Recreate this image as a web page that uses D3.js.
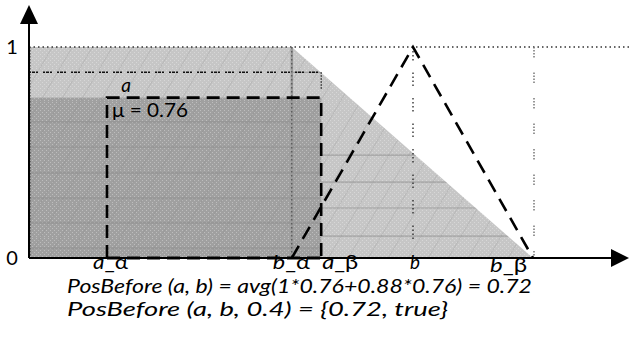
<!DOCTYPE html>
<html>
<head>
<meta charset="utf-8">
<script src="https://cdn.jsdelivr.net/npm/d3@7"></script>
<style>
  html, body { margin: 0; padding: 0; background: #fff; }
  svg { display: block; font-family: Lato, "Open Sans", "Liberation Sans", sans-serif; }
</style>
</head>
<body>
<svg id="chart" width="629" height="347"></svg>
<script>
// Interval end points on the horizontal axis
const pointNames  = ["a_α", "b_α", "a_β", "b", "b_β"];
const pointValues = [1.3, 4.38, 4.87, 6.4, 8.4];
// Membership levels
const mu = 0.76;           // height of the crisp interval a
const levelAtAbeta = 0.88; // value of the possibility curve at a_β
const yTickLabels = ["0", "1"];
const yTickValues = [0, 1];
// Faint horizontal rule levels inside the shaded areas
const darkRules  = [0.645, 0.526, 0.403, 0.284, 0.166, 0.047];
const lightRules = [0.88, 0.488, 0.36, 0.237, 0.104];
// Formula lines under the axis
const formulas = [
  "PosBefore (a, b) = avg(1*0.76+0.88*0.76) = 0.72",
  "PosBefore (a, b, 0.4) = {0.72, true}"
];

const P = {};
pointNames.forEach((n, i) => P[n] = pointValues[i]);

const svg = d3.select("#chart");
const x = d3.scaleLinear().domain([0, 10]).range([29, 629]);
const y = d3.scaleLinear().domain([0, 1]).range([258, 47]);

// ---- textures ----
const defs = svg.append("defs");
function texture(id, base) {
  const p = defs.append("pattern").attr("id", id)
    .attr("patternUnits", "userSpaceOnUse").attr("width", 20).attr("height", 34);
  p.append("rect").attr("width", 20).attr("height", 34).attr("fill", base);
  for (let i = 0; i < 20; i += 2) for (let j = 0; j < 34; j += 2) {
    if ((i + j) % 4 === 0) p.append("rect").attr("x", i).attr("y", j)
      .attr("width", 1).attr("height", 1).attr("fill", "#fff").attr("opacity", 0.3);
  }
  p.append("path").attr("d", "M0,34 L20,0 M-10,17 L0,0 M20,34 L30,17")
    .attr("stroke", "#777").attr("stroke-opacity", 0.2).attr("stroke-width", 1);
}
texture("lightTex", "#c6c6c6");
texture("darkTex", "#a0a0a0");

// ---- possibility region (light) ----
const lightPts = [[0, 1], [P["b_α"], 1], [P["b_β"], 0], [0, 0]];
const line = d3.line().x(d => x(d[0])).y(d => y(d[1]));
defs.append("clipPath").attr("id", "lightClip")
  .append("path").attr("d", line(lightPts) + "Z");
svg.append("path").attr("d", line(lightPts) + "Z").attr("fill", "url(#lightTex)");

// faint rules inside the light region, right of a_β
svg.append("g").attr("clip-path", "url(#lightClip)")
  .selectAll("line").data(lightRules).join("line")
  .attr("x1", x(P["b_α"])).attr("x2", x(P["b_β"]))
  .attr("y1", d => y(d)).attr("y2", d => y(d))
  .attr("stroke", "#8a8a8a").attr("stroke-width", 1.2).attr("stroke-opacity", 0.6);

// ---- dark region: 0 .. a_β at height mu ----
svg.append("rect")
  .attr("x", x(0)).attr("y", y(mu))
  .attr("width", x(P["a_β"]) - x(0)).attr("height", y(0) - y(mu))
  .attr("fill", "url(#darkTex)");
svg.append("g").selectAll("line").data(darkRules).join("line")
  .attr("x1", x(0)).attr("x2", x(P["a_β"]))
  .attr("y1", d => y(d)).attr("y2", d => y(d))
  .attr("stroke", "#8c8c8c").attr("stroke-width", 1.2).attr("stroke-opacity", 0.6);

// ---- guide lines ----
// level 1
svg.append("line").attr("x1", x(0)).attr("x2", 629).attr("y1", y(1)).attr("y2", y(1))
  .attr("stroke", "#333").attr("stroke-width", 1.3).attr("stroke-dasharray", "1.5,3");
// level at a_β
svg.append("line").attr("x1", x(0)).attr("x2", x(P["a_β"])).attr("y1", y(levelAtAbeta)).attr("y2", y(levelAtAbeta))
  .attr("stroke", "#111").attr("stroke-width", 1.4).attr("stroke-dasharray", "2,1,3,1,2,5");
svg.append("line").attr("x1", x(P["a_β"])).attr("x2", x(P["a_β"])).attr("y1", y(levelAtAbeta)).attr("y2", y(0.8))
  .attr("stroke", "#111").attr("stroke-width", 1.2).attr("stroke-dasharray", "1.5,1.5");
// b_α vertical
svg.append("line").attr("x1", x(P["b_α"])).attr("x2", x(P["b_α"])).attr("y1", y(1)).attr("y2", y(0))
  .attr("stroke", "#999").attr("stroke-width", 2.5);
svg.append("line").attr("x1", x(P["b_α"])).attr("x2", x(P["b_α"])).attr("y1", y(1)).attr("y2", y(0))
  .attr("stroke", "#444").attr("stroke-width", 1).attr("stroke-dasharray", "1.5,2.5");
// b vertical
svg.append("line").attr("x1", x(P["b"])).attr("x2", x(P["b"])).attr("y1", y(1)).attr("y2", y(0.05))
  .attr("stroke", "#222").attr("stroke-width", 1.3).attr("stroke-dasharray", "1.5,2.5,1.5,2.5,1.5,2.5,1.5,12");
// b_β vertical
svg.append("line").attr("x1", x(P["b_β"]) + 1).attr("x2", x(P["b_β"]) + 1).attr("y1", y(1)).attr("y2", y(0))
  .attr("stroke", "#777").attr("stroke-width", 1.5).attr("stroke-dasharray", "1.5,1.5,1.5,1.5,1.5,1.5,1.5,15");

// left edge of the shaded area
svg.append("line").attr("x1", x(0) + 1).attr("x2", x(0) + 1).attr("y1", y(1)).attr("y2", y(0))
  .attr("stroke", "#333").attr("stroke-width", 1).attr("stroke-dasharray", "1.5,1.5");

// ---- dashed crisp interval a ----
const dash = "13,7";
const rectPts = [[P["a_α"], 0], [P["a_α"], mu], [P["a_β"], mu], [P["a_β"], 0]];
svg.append("path").attr("d", line(rectPts)).attr("fill", "none")
  .attr("stroke", "#000").attr("stroke-width", 2.6).attr("stroke-dasharray", dash);

// ---- triangle b ----
const triPts = [[P["b_α"], 0], [P["b"], 1], [P["b_β"], 0]];
svg.append("path").attr("d", line(triPts)).attr("fill", "none")
  .attr("stroke", "#000").attr("stroke-width", 2.6).attr("stroke-dasharray", "14,8");

// ---- axes ----
svg.append("line").attr("x1", x(0)).attr("x2", 612).attr("y1", y(0)).attr("y2", y(0))
  .attr("stroke", "#000").attr("stroke-width", 2);
svg.append("path").attr("d", "M611,249 L629,258 L611,267 Z").attr("fill", "#000");
// dashed bottom of interval a over the axis
svg.append("line").attr("x1", x(P["a_α"])).attr("x2", x(P["a_β"])).attr("y1", y(0)).attr("y2", y(0))
  .attr("stroke", "#000").attr("stroke-width", 3).attr("stroke-dasharray", dash);

svg.append("line").attr("x1", x(0)).attr("x2", x(0)).attr("y1", y(0)).attr("y2", 22)
  .attr("stroke", "#000").attr("stroke-width", 2);
svg.append("path").attr("d", "M20,24 L29,5 L38,24 Z").attr("fill", "#000");

// y tick labels
svg.append("g").selectAll("text").data(yTickValues).join("text")
  .attr("x", 12).attr("y", d => y(d) + 7)
  .attr("text-anchor", "middle").attr("font-size", 20).attr("fill", "#000")
  .text((d, i) => yTickLabels[i]);

// x labels: italic letter, underscore and greek suffix
const labelShift = { "a_α": -14, "b_α": -19, "a_β": 1, "b": -3, "b_β": -43 };
const labelWidth = { "a_α": 35, "b_α": 37, "a_β": 36, "b": 10, "b_β": 37 };
const lab = svg.append("g").selectAll("text").data(pointNames).join("text")
  .attr("x", (d, i) => x(pointValues[i]) + labelShift[d])
  .attr("y", d => d === "b_β" ? 272 : 269)
  .attr("font-size", 20).attr("fill", "#000")
  .attr("textLength", d => labelWidth[d]).attr("lengthAdjust", "spacingAndGlyphs");
lab.each(function(d) {
  const t = d3.select(this);
  const parts = d.split("_");
  t.append("tspan").attr("font-style", "italic").text(parts[0]);
  if (parts[1]) t.append("tspan").text("_" + parts[1]);
});

// interval name and height
svg.append("text").attr("x", 126).attr("y", 92).attr("text-anchor", "middle")
  .attr("font-style", "italic").attr("font-size", 19).text("a");
svg.append("text").attr("x", 112).attr("y", 117).attr("font-size", 19)
  .attr("textLength", 76).attr("lengthAdjust", "spacingAndGlyphs")
  .text("μ = " + mu.toFixed(2));

// formulas
const formulaWidths = [465, 381];
svg.append("g").selectAll("text").data(formulas).join("text")
  .attr("x", 67).attr("y", (d, i) => 293 + i * 23)
  .attr("font-size", 19.5).attr("font-style", "italic").attr("fill", "#000")
  .attr("textLength", (d, i) => formulaWidths[i]).attr("lengthAdjust", "spacingAndGlyphs")
  .text(d => d);
</script>
</body>
</html>
